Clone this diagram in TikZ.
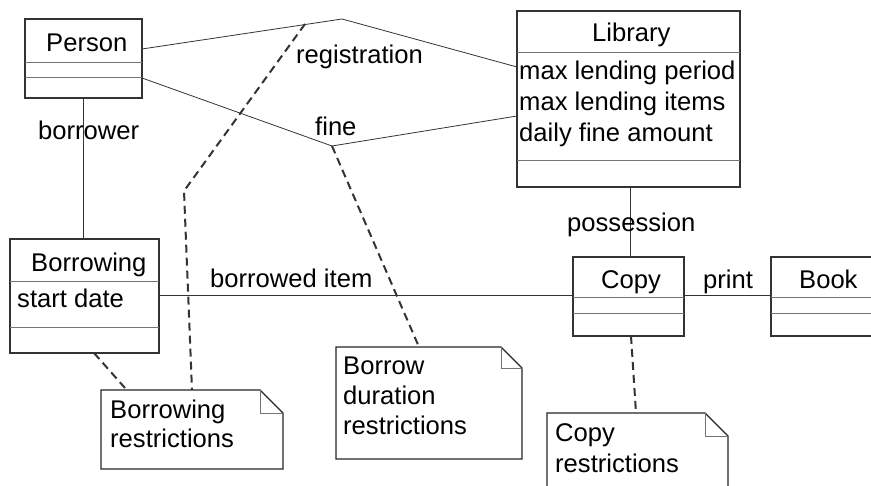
\documentclass[tikz,border=0pt]{standalone}
\usepackage{fontspec}
\setmainfont{Liberation Sans}
\begin{document}
\begin{tikzpicture}[x=1pt,y=-1pt,
  box/.style={draw=black!80, line width=1.1pt, anchor=north west, inner sep=0pt, outer sep=0pt, fill=white},
  divider/.style={draw=black!55, line width=0.9pt},
  assoc/.style={draw=black!80, line width=0.8pt},
  noteline/.style={draw=black!80, line width=2pt, dash pattern=on 8pt off 5pt},
  notearea/.style={anchor=north west, inner sep=0pt, outer sep=0pt},
  noteedge/.style={draw=black!85, line width=1.1pt},
  foldedge/.style={draw=black!55, line width=0.9pt},
  txt/.style={anchor=base west, inner sep=0pt, font=\fontsize{25.6}{31}\selectfont}
]
\useasboundingbox (0,0) rectangle (871,486);
\clip (0,0) rectangle (871,486);

% ---------- association lines (drawn first) ----------
\coordinate (regapex) at (342,19);
\coordinate (fineapex) at (332,146);

% ---------- class boxes ----------
\node[box, minimum width=117pt, minimum height=79pt] (person) at (25,19) {};
\node[box, minimum width=223pt, minimum height=176pt] (library) at (517,11) {};
\node[box, minimum width=149pt, minimum height=114pt] (borrowing) at (10,239) {};
\node[box, minimum width=111pt, minimum height=79pt] (copy) at (573,257) {};
\node[box, minimum width=111pt, minimum height=79pt] (book) at (771,257) {};

% dividers
\draw[divider] (person.west |- 0,62) -- (person.east |- 0,62);
\draw[divider] (person.west |- 0,77) -- (person.east |- 0,77);
\draw[divider] (library.west |- 0,52) -- (library.east |- 0,52);
\draw[divider] (library.west |- 0,160) -- (library.east |- 0,160);
\draw[divider] (borrowing.west |- 0,281) -- (borrowing.east |- 0,281);
\draw[divider] (borrowing.west |- 0,327) -- (borrowing.east |- 0,327);
\draw[divider] (copy.west |- 0,297) -- (copy.east |- 0,297);
\draw[divider] (copy.west |- 0,313) -- (copy.east |- 0,313);
\draw[divider] (book.west |- 0,297) -- (book.east |- 0,297);
\draw[divider] (book.west |- 0,313) -- (book.east |- 0,313);

% class texts
\node[txt] (tperson) at (46,52) {Person};
\node[txt] (tlibrary) at (592,42) {Library};
\node[txt] (tlib1) at (519,80) {max lending period};
\node[txt] (tlib2) at (519,111) {max lending items};
\node[txt] (tlib3) at (519,142) {daily fine amount};
\node[txt] (tborrowing) at (31,272) {Borrowing};
\node[txt] (tstart) at (17,308) {start date};
\node[txt] (tcopy) at (601,289) {Copy};
\node[txt] (tbook) at (799,289) {Book};

% ---------- associations ----------
\draw[assoc] (person.east |- 0,49) -- (regapex) -- (library.west |- 0,67);
\draw[assoc] (person.east |- 0,78) -- (fineapex) -- (library.west |- 0,116);
\draw[assoc] (person.south -| 83,0) -- (borrowing.north -| 83,0);
\draw[assoc] (library.south -| 630,0) -- (copy.north -| 630,0);
\draw[assoc] (borrowing.east |- 0,295) -- (copy.west |- 0,295);
\draw[assoc] (copy.east |- 0,295) -- (book.west |- 0,295);

% association labels
\node[txt] (lreg) at (296,64) {registration};
\node[txt] (lfine) at (315,136) {fine};
\node[txt] (lborrower) at (38,140) {borrower};
\node[txt] (lposs) at (567,232) {possession};
\node[txt] (lbitem) at (210,288) {borrowed item};
\node[txt] (lprint) at (703,289) {print};

% ---------- notes ----------
\node[notearea, minimum width=182pt, minimum height=79pt] (nbr) at (101,390) {};
\node[notearea, minimum width=186pt, minimum height=112pt] (nbd) at (336,347) {};
\node[notearea, minimum width=181pt, minimum height=100pt] (ncp) at (547,413) {};

\foreach \n/\f in {nbr/23, nbd/21, ncp/23}{
  \draw[noteedge, fill=white] (\n.north west) -- ([xshift=-\f pt]\n.north east)
     -- ([yshift=-\f pt]\n.north east) -- (\n.south east) -- (\n.south west) -- cycle;
  \draw[foldedge] ([xshift=-\f pt]\n.north east) -- ([xshift=-\f pt, yshift=-\f pt]\n.north east)
     -- ([yshift=-\f pt]\n.north east);
}

\node[txt] (tnbr1) at (110,419) {Borrowing};
\node[txt] (tnbr2) at (110,448) {restrictions};
\node[txt] (tnbd1) at (343,375) {Borrow};
\node[txt] (tnbd2) at (343,405) {duration};
\node[txt] (tnbd3) at (343,435) {restrictions};
\node[txt] (tncp1) at (555,442) {Copy};
\node[txt] (tncp2) at (555,472) {restrictions};

% ---------- note anchors (dashed) ----------
\coordinate (regdash) at (305,24);
\coordinate (bend) at (184,191);
\draw[noteline] (regdash) -- (bend) -- (nbr.north -| 192,0);
\draw[noteline] (fineapex) -- (nbd.north -| 419,0);
\draw[noteline] (borrowing.south -| 94,0) -- (125,388);
\draw[noteline] (copy.south -| 631,0) -- (ncp.north -| 636,0);
\end{tikzpicture}
\end{document}
